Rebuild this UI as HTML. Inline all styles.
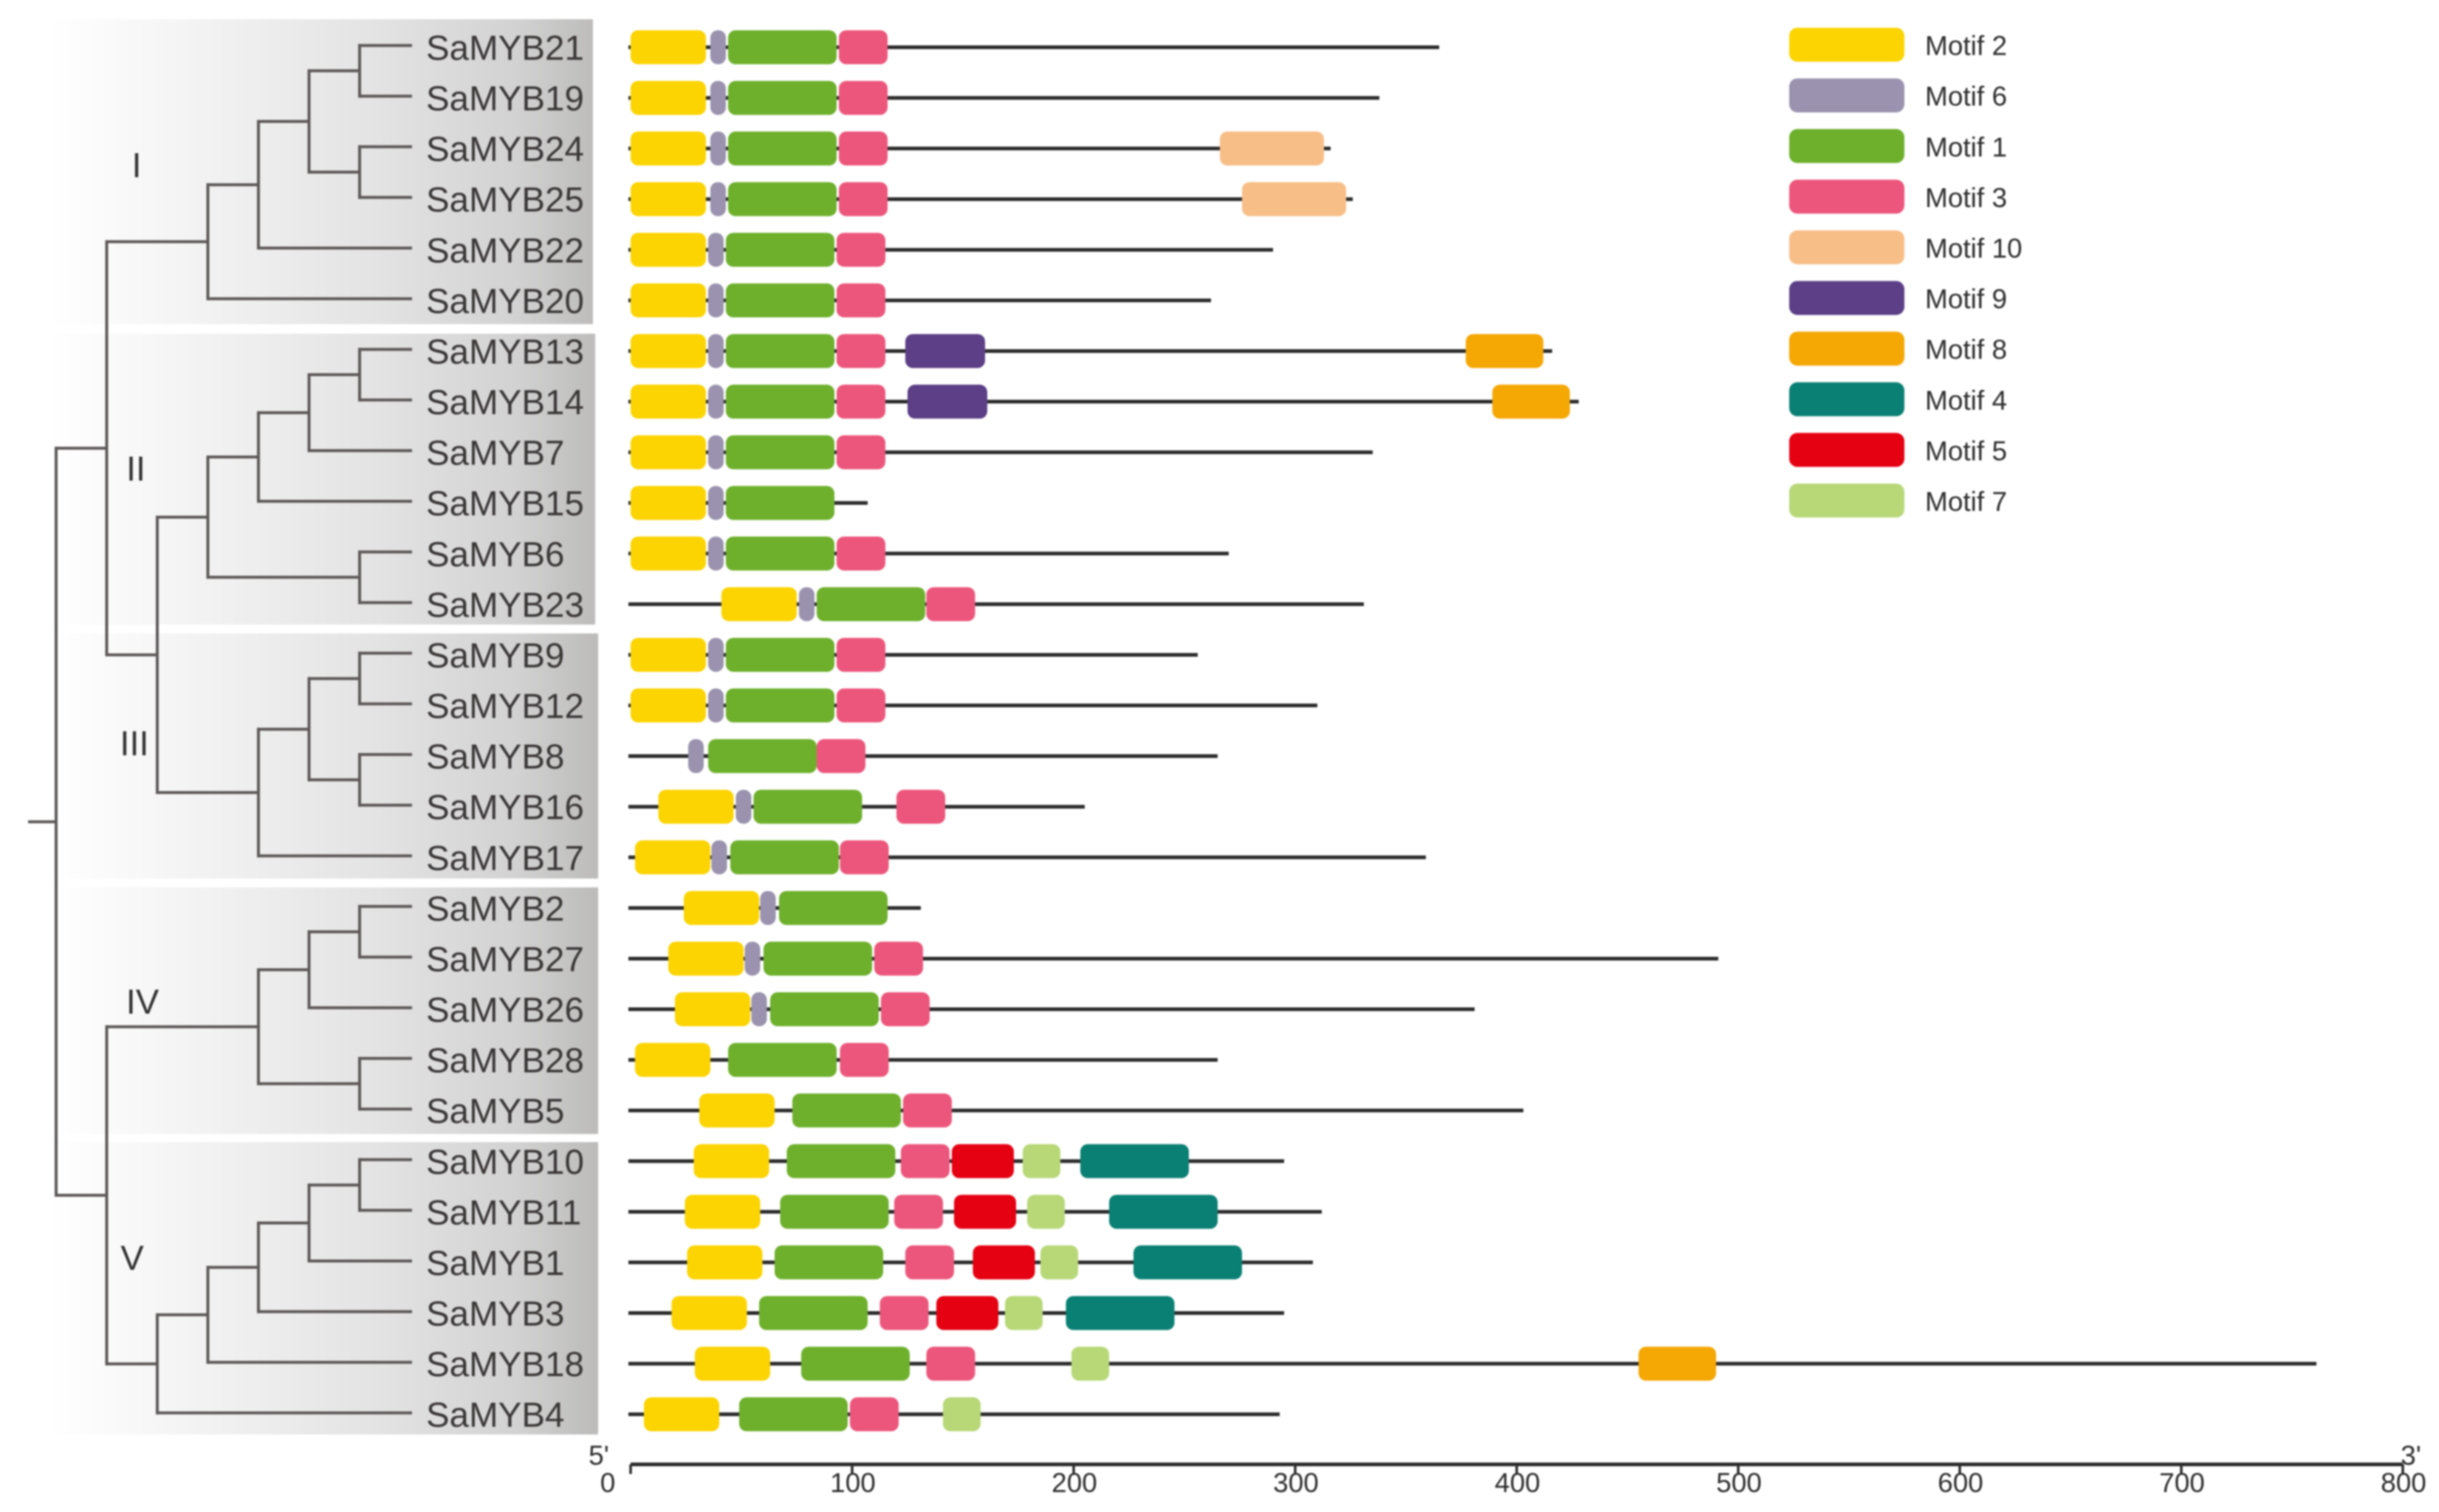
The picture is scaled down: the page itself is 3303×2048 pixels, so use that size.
<!DOCTYPE html>
<html lang="en">
<head>
<meta charset="utf-8">
<title>SaMYB phylogeny and conserved motifs</title>
<style>
html,body{margin:0;padding:0;background:#fff;width:3303px;height:2048px;overflow:hidden}
svg{display:block;filter:blur(1px)}
text{font-family:"Liberation Sans",sans-serif}
</style>
</head>
<body>
<svg id="chart" xmlns="http://www.w3.org/2000/svg" width="3303" height="2048" viewBox="0 0 3303 2048">
  <defs>
    <linearGradient id="panelFill" gradientUnits="userSpaceOnUse" x1="70" y1="0" x2="810" y2="0">
      <stop offset="0" stop-color="#ffffff"/>
      <stop offset="0.2" stop-color="#f6f6f6"/>
      <stop offset="0.6" stop-color="#e3e3e3"/>
      <stop offset="0.85" stop-color="#d2d2d2"/>
      <stop offset="1" stop-color="#bcbbba"/>
    </linearGradient>
  </defs>
  <g id="panels"></g>
  <g id="tree"></g>
  <g id="cladeLabels"></g>
  <g id="geneLabels"></g>
  <g id="genes"></g>
  <g id="legend"></g>
  <g id="axis"></g>
</svg>
<script>
// ---- Data ----
const geneNames = ['SaMYB21','SaMYB19','SaMYB24','SaMYB25','SaMYB22','SaMYB20','SaMYB13','SaMYB14','SaMYB7','SaMYB15','SaMYB6','SaMYB23','SaMYB9','SaMYB12','SaMYB8','SaMYB16','SaMYB17','SaMYB2','SaMYB27','SaMYB26','SaMYB28','SaMYB5','SaMYB10','SaMYB11','SaMYB1','SaMYB3','SaMYB18','SaMYB4'];
const geneLengths = [365,338,316,326,290,262,416,428,335,107,270,331,256,310,265,205,359,131,491,381,265,403,295,312,308,295,761,293];
const motifIds = [2,6,1,3,10,9,8,4,5,7];
const motifLengths = [34,7,49,22,47,36,35,49,28,17];
const motifColors = ['#fcd402','#9a92ae','#6eb02c','#ec567c','#f8be88','#5c3f86','#f5a704','#0a8074','#e50012','#b8d878'];
// each gene: [motif id, start position] in amino-acid units
const geneMotifs = [
 [[2,0],[6,36],[1,44],[3,94]],
 [[2,0],[6,36],[1,44],[3,94]],
 [[2,0],[6,36],[1,44],[3,94],[10,266]],
 [[2,0],[6,36],[1,44],[3,94],[10,276]],
 [[2,0],[6,35],[1,43],[3,93]],
 [[2,0],[6,35],[1,43],[3,93]],
 [[2,0],[6,35],[1,43],[3,93],[9,124],[8,377]],
 [[2,0],[6,35],[1,43],[3,93],[9,125],[8,389]],
 [[2,0],[6,35],[1,43],[3,93]],
 [[2,0],[6,35],[1,43]],
 [[2,0],[6,35],[1,43],[3,93]],
 [[2,41],[6,76],[1,84],[3,133.5]],
 [[2,0],[6,35],[1,43],[3,93]],
 [[2,0],[6,35],[1,43],[3,93]],
 [[6,26],[1,35],[3,84]],
 [[2,12.5],[6,47.5],[1,55.5],[3,120]],
 [[2,2],[6,36.5],[1,45],[3,94.5]],
 [[2,24],[6,58.5],[1,67]],
 [[2,17],[6,51.5],[1,60],[3,110]],
 [[2,20],[6,54.5],[1,63],[3,113]],
 [[2,2],[1,44],[3,94.5]],
 [[2,31],[1,73],[3,123]],
 [[2,28.5],[1,70.5],[3,122],[5,145],[7,177],[4,203]],
 [[2,24.5],[1,67.5],[3,119],[5,146],[7,179],[4,216]],
 [[2,25.5],[1,65],[3,124],[5,154.5],[7,185],[4,227]],
 [[2,18.5],[1,58],[3,112.5],[5,138],[7,169],[4,196.5]],
 [[2,29],[1,77],[3,133.5],[7,199],[8,455]],
 [[2,6],[1,49],[3,99],[7,141]]
];
const axisTicks = [0,100,200,300,400,500,600,700,800];
const cladeNames = ['I','II','III','IV','V'];
// tree: [depth level, child, child]; a number child is an index into geneNames
const treeRoot = [0,
  [1,
    [3,
      [4,
        [5,[6,0,1],[6,2,3]],
        4],
      5],
    [2,
      [3,
        [4,
          [5,[6,6,7],8],
          9],
        [6,10,11]],
      [4,
        [5,[6,12,13],[6,14,15]],
        16]]],
  [1,
    [4,
      [5,[6,17,18],19],
      [6,20,21]],
    [2,
      [3,
        [4,
          [5,[6,22,23],24],
          25],
        26],
      27]]];

// ---- Layout ----
const NS = 'http://www.w3.org/2000/svg';
const xScale = v => 854 + 3.0 * v;
const rowY = i => 64 + 68.58 * i;
const treeLeafY = i => 61.6 + 68.6 * i;
const treeX = d => 76 + 68.5 * d;
const LEAF_X = 556;
const TREE_COLOR = '#5e5959';
const make = (tag, parent) => { const e = document.createElementNS(NS, tag); parent.appendChild(e); return e; };
const set = (e, o) => { for (const k in o) e.setAttribute(k, o[k]); return e; };

// Panels
const panelBoxes = [[26,439,803],[452,846,806],[858,1190,810],[1202,1536,810],[1547,1943,810]];
const panelG = document.getElementById('panels');
panelBoxes.forEach((b, i) => {
  const r = make('rect', panelG);
  set(r, {x:70, y:b[0], width:b[2]-70, height:b[1]-b[0], fill:'url(#panelFill)'});
  
  
});

// Tree
const treeG = document.getElementById('tree');
function treeLine(x1, y1, x2, y2) {
  const l = make('line', treeG);
  set(l, {x1, y1, x2, y2, stroke:TREE_COLOR, 'stroke-width':4, 'stroke-linecap':'square'});
  
  
}
function drawNode(node) {
  if (typeof node === 'number') return {x:LEAF_X, y:treeLeafY(node)};
  const x = treeX(node[0]);
  const a = drawNode(node[1]);
  const b = drawNode(node[2]);
  treeLine(x, a.y, x, b.y);
  treeLine(x, a.y, a.x, a.y);
  treeLine(x, b.y, b.x, b.y);
  return {x, y:(a.y + b.y) / 2};
}
const rootPos = drawNode(treeRoot);
treeLine(40, rootPos.y, rootPos.x, rootPos.y);

// Clade labels
const cladeLabelPos = [[185,223],[184,634],[182,1006],[193,1356],[179,1703]];
const cladeG = document.getElementById('cladeLabels');
cladeNames.forEach((n, i) => {
  const t = make('text', cladeG);
  set(t, {x:cladeLabelPos[i][0], y:cladeLabelPos[i][1] + 17, 'text-anchor':'middle', 'font-size':47, fill:'#333'});
  t.textContent = n;
  
  
});

// Gene labels
const labelG = document.getElementById('geneLabels');
geneNames.forEach((n, i) => {
  const t = make('text', labelG);
  set(t, {x:577, y:rowY(i) + 17, 'font-size':47.5, fill:'#3a3737'});
  t.textContent = n;
  
  
});

// Gene tracks
const BAR_H = 46;
const genesG = document.getElementById('genes');
geneNames.forEach((n, i) => {
  const g = make('g', genesG);
  
  
  const y = rowY(i);
  const line = make('line', g);
  set(line, {x1:xScale(-1), y1:y, x2:xScale(geneLengths[i]), y2:y, stroke:'#2c2c2c', 'stroke-width':5});
  
  
  geneMotifs[i].forEach(m => {
    const k = motifIds.indexOf(m[0]);
    const r = make('rect', g);
    set(r, {x:xScale(m[1]), y:y - BAR_H / 2, width:motifLengths[k] * 3, height:BAR_H, rx:10, ry:10, fill:motifColors[k]});
    
    
  });
});

// Legend
const legendG = document.getElementById('legend');
motifIds.forEach((id, i) => {
  const cy = 60.6 + 68.6 * i;
  const g = make('g', legendG);
  
  
  const r = make('rect', g);
  set(r, {x:2423, y:cy - 23, width:156, height:46, rx:11, ry:11, fill:motifColors[i]});
  
  
  const t = make('text', g);
  set(t, {x:2607, y:cy + 14, 'font-size':37, fill:'#2e2e2e'});
  t.textContent = 'Motif ' + id;
  
  
});

// Axis
const axisG = document.getElementById('axis');
const AXIS_Y = 1983.5;
const axisLine = make('line', axisG);
set(axisLine, {x1:xScale(axisTicks[0]), y1:AXIS_Y, x2:xScale(axisTicks[axisTicks.length - 1]), y2:AXIS_Y, stroke:'#2c2c2c', 'stroke-width':5});


axisTicks.forEach((v, i) => {
  const x = xScale(v);
  const tick = make('line', axisG);
  set(tick, {x1:x, y1:AXIS_Y, x2:x, y2:AXIS_Y + 13, stroke:'#2c2c2c', 'stroke-width':3.5});
  
  
  const t = make('text', axisG);
  set(t, {x:i === 0 ? 823 : x + 1, y:2021, 'text-anchor':'middle', 'font-size':37, fill:'#2e2e2e'});
  t.textContent = v;
  
  
});
const axisEndLabels = ["5'", "3'"];
const axisEndX = [811, 3265];
axisEndLabels.forEach((s, i) => {
  const t = make('text', axisG);
  set(t, {x:axisEndX[i], y:1984, 'text-anchor':'middle', 'font-size':37, fill:'#2e2e2e'});
  t.textContent = s;
  
  
});
</script>
</body>
</html>
